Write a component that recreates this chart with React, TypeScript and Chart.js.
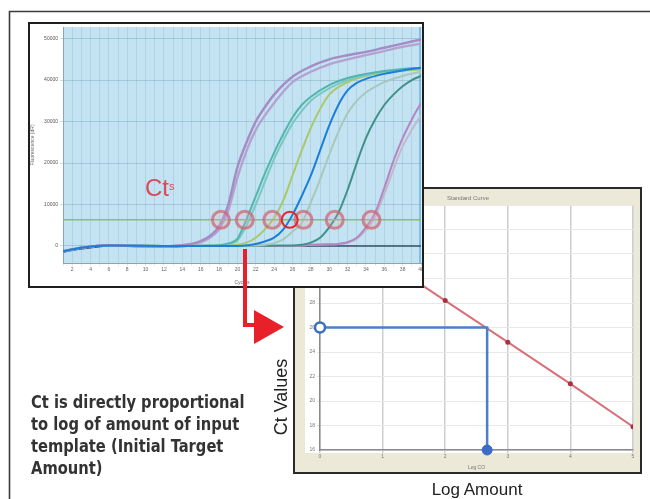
import React, { useEffect, useRef } from "react";
import { Chart, registerables } from "chart.js";
Chart.register(...registerables);

// ---------------- Amplification plot (top-left) ----------------
const ampCycleTicks = [1, 2, 3, 4, 5, 6, 7, 8, 9, 10, 11, 12, 13, 14, 15, 16, 17, 18, 19, 20, 21, 22, 23, 24, 25, 26, 27, 28, 29, 30, 31, 32, 33, 34, 35, 36, 37, 38, 39, 40];
const ampYTicks = [0, 10000, 20000, 30000, 40000, 50000];
const thresholdValue = 6300;
const ctCycles = [18.2, 20.8, 23.8, 27.2, 30.6, 34.6];
const ctHighlightCycle = [25.7];

const purple1Cycles = [1, 3, 6, 9, 12, 14, 15, 16, 17, 18, 19, 20, 21, 22, 23, 24, 26, 28, 30, 32, 34, 36, 38, 40];
const purple1Values = [-1300, -400, 200, 0, -100, 200, 500, 1200, 2400, 4800, 10000, 19000, 25000, 30000, 33500, 36500, 40800, 43300, 45000, 46000, 46800, 47800, 48800, 49800];
const purple2Cycles = [1, 3, 6, 9, 12, 14, 15, 16, 17, 18, 19, 20, 21, 22, 23, 24, 26, 28, 30, 32, 34, 36, 38, 40];
const purple2Values = [-1300, -400, 200, 0, -100, 150, 400, 900, 2000, 4000, 8500, 16500, 23000, 28000, 31500, 34500, 39500, 42000, 43800, 45000, 46000, 47000, 48000, 48800];
const teal1Cycles = [1, 3, 6, 12, 18, 19, 20, 21, 22, 23, 24, 25, 26, 27, 28, 30, 32, 34, 36, 38, 40];
const teal1Values = [-1300, -400, 100, 0, 200, 600, 1800, 6500, 12000, 17500, 22500, 27000, 31000, 34000, 36000, 38800, 40500, 41500, 42200, 42700, 43000];
const teal2Cycles = [1, 3, 6, 12, 18, 19, 20, 21, 22, 23, 24, 25, 26, 27, 28, 30, 32, 34, 36, 38, 40];
const teal2Values = [-1300, -400, 100, 0, 150, 400, 1300, 5000, 10000, 15500, 21000, 25500, 29500, 32500, 35000, 38000, 40000, 41200, 42000, 42500, 42800];
const greenCycles = [1, 3, 6, 12, 19, 20, 21, 22, 23, 24, 25, 26, 27, 28, 29, 30, 32, 34, 36, 38, 40];
const greenValues = [-1300, -400, 100, 0, 100, 300, 800, 2000, 4000, 6800, 11000, 17000, 23000, 28500, 33000, 36500, 39500, 41000, 41800, 42300, 42600];
const blueCycles = [1, 3, 6, 12, 20, 21, 22, 23, 24, 25, 26, 27, 28, 29, 30, 31, 32, 33, 34, 36, 38, 40];
const blueValues = [-1300, -400, 100, 0, 0, 150, 500, 1100, 2000, 4000, 7500, 12000, 17000, 23000, 29000, 34000, 37500, 39300, 40300, 41500, 42300, 43000];
const grayGreenCycles = [1, 3, 6, 12, 22, 23, 24, 25, 26, 27, 28, 29, 30, 31, 32, 33, 34, 36, 38, 40];
const grayGreenValues = [-1300, -400, 100, 0, 100, 300, 700, 1600, 3500, 5500, 10500, 16000, 22000, 27500, 32000, 35000, 37000, 39500, 41000, 42000];
const darkTealCycles = [1, 3, 6, 12, 26, 27, 28, 29, 30, 31, 32, 33, 34, 35, 36, 37, 38, 39, 40];
const darkTealValues = [-1300, -400, 100, 0, 100, 300, 800, 2000, 4500, 8000, 13500, 20000, 26000, 30500, 34000, 36500, 38500, 40000, 41000];
const mauve1Cycles = [1, 3, 6, 12, 26, 28, 30, 31, 32, 33, 34, 35, 36, 37, 38, 39, 40];
const mauve1Values = [-1300, -400, 100, 0, 0, 300, 400, 500, 900, 2000, 4500, 8000, 14000, 20500, 26000, 30500, 34500];
const mauve2Cycles = [1, 3, 6, 12, 26, 28, 30, 31, 32, 33, 34, 35, 36, 37, 38, 39, 40];
const mauve2Values = [-1300, -400, 100, 0, 0, 300, 400, 500, 800, 1700, 3800, 7000, 12500, 18500, 24000, 28000, 31500];
const ntcCycles = [1, 2, 4, 6, 9, 12, 16, 20, 30, 40];
const ntcValues = [-1500, -1000, -400, 0, -100, -200, 0, 0, 0, 0];

// ---------------- Standard curve (bottom-right) ----------------
const stdXTicks = [0, 1, 2, 3, 4, 5];
const stdYTicks = [16, 18, 20, 22, 24, 26, 28, 30, 32, 34, 36];
const stdLogAmount = [0, 1, 2, 3, 4, 5];
const stdCt = [35.0, 31.6, 28.2, 24.8, 21.4, 17.9];
const unknownCt = 26.0;
const unknownLogAmount = 2.67;

const zip = (xs: number[], ys: number[]) => xs.map((x, i) => ({ x, y: ys[i] }));

const FONT = "'Liberation Sans', Arial, sans-serif";

const noPad = (s: any) => {
  s.paddingLeft = 0;
  s.paddingRight = 0;
  s.paddingTop = 0;
  s.paddingBottom = 0;
};

const ampBgPlugin = {
  id: "ampBg",
  beforeDraw(chart: any) {
    const { ctx, chartArea: a } = chart;
    ctx.save();
    ctx.fillStyle = "#c3e3f2";
    ctx.fillRect(a.left, a.top, a.right - a.left, a.bottom - a.top);
    ctx.fillStyle = "#7cc0e6";
    ctx.fillRect(a.right - 2, a.top, 2, a.bottom - a.top);
    ctx.restore();
  },
};

const stdBgPlugin = {
  id: "stdBg",
  beforeDraw(chart: any) {
    const { ctx, chartArea: a } = chart;
    ctx.save();
    ctx.fillStyle = "#ffffff";
    ctx.fillRect(a.left - 15, a.top, a.right - a.left + 15, a.bottom - a.top + 3);
    ctx.fillStyle = "#777";
    ctx.font = "6px " + FONT;
    ctx.textAlign = "center";
    ctx.fillText("Standard Curve", 173, 11);
    ctx.restore();
  },
};

export default function App() {
  const ampRef = useRef<HTMLCanvasElement>(null);
  const stdRef = useRef<HTMLCanvasElement>(null);

  useEffect(() => {
    Chart.defaults.font.family = FONT;
    const curve = (cs: number[], vs: number[], color: string, width = 2) => ({
      data: zip(cs, vs),
      borderColor: color,
      borderWidth: width,
      pointRadius: 0,
      cubicInterpolationMode: "monotone" as const,
      fill: false,
    });

    const amp = new Chart(ampRef.current!, {
      type: "line",
      data: {
        datasets: [
          {
            data: ctHighlightCycle.map((x) => ({ x, y: thresholdValue })),
            showLine: false,
            pointRadius: 8,
            pointBorderWidth: 2,
            pointBorderColor: "#e8242c",
            pointBackgroundColor: "rgba(0,0,0,0)",
          },
          {
            data: ctCycles.map((x) => ({ x, y: thresholdValue })),
            showLine: false,
            pointRadius: 8.5,
            pointBorderWidth: 3,
            pointBorderColor: "rgba(205,100,110,0.72)",
            pointBackgroundColor: "rgba(235,170,180,0.22)",
          },
          curve(blueCycles, blueValues, "#1b7fd8", 2),
          {
            data: [
              { x: 1, y: thresholdValue },
              { x: 40, y: thresholdValue },
            ],
            borderColor: "#86c06a",
            borderWidth: 1.5,
            pointRadius: 0,
          },
          curve(purple1Cycles, purple1Values, "#a48cc6", 2.4),
          curve(purple2Cycles, purple2Values, "#b4a2d0", 2.4),
          curve(teal1Cycles, teal1Values, "#52b6b0", 2),
          curve(teal2Cycles, teal2Values, "#7cc8c0", 2),
          curve(greenCycles, greenValues, "#a9c86c", 2),
          curve(grayGreenCycles, grayGreenValues, "#a6c8bd", 2),
          curve(darkTealCycles, darkTealValues, "#3e9288", 2),
          curve(mauve1Cycles, mauve1Values, "#b486c2", 2),
          curve(mauve2Cycles, mauve2Values, "#c2b8cc", 2),
          curve(ntcCycles, ntcValues, "#3d4d6a", 1.5),
        ],
      },
      options: {
        animation: false,
        responsive: false,
        maintainAspectRatio: false,
        layout: { autoPadding: false, padding: { left: 0, right: 1, top: 3, bottom: 0 } },
        plugins: { legend: { display: false }, tooltip: { enabled: false } },
        scales: {
          x: {
            type: "linear",
            min: 1,
            max: 40,
            afterBuildTicks: (s: any) => {
              s.ticks = ampCycleTicks.map((v) => ({ value: v }));
            },
            afterFit: (s: any) => {
              s.height = 23;
              noPad(s);
            },
            ticks: {
              autoSkip: false,
              maxRotation: 0,
              font: { size: 5 },
              color: "#666",
              padding: 1,
              callback: (v: any) => (Number(v) % 2 === 0 ? String(v) : ""),
            },
            grid: { color: "rgba(90,140,170,0.18)", tickLength: 3 },
            border: { color: "#8aa6b4" },
            title: { display: true, text: "Cycles", font: { size: 5 }, color: "#666", padding: 0 },
          },
          y: {
            type: "linear",
            min: -4100,
            max: 52800,
            afterBuildTicks: (s: any) => {
              s.ticks = ampYTicks.map((v) => ({ value: v }));
            },
            afterFit: (s: any) => {
              s.width = 33;
              noPad(s);
            },
            ticks: { font: { size: 5 }, color: "#555", padding: 2, callback: (v: any) => String(v) },
            grid: { color: "rgba(90,140,170,0.3)", tickLength: 3 },
            border: { color: "#8aa6b4" },
            title: { display: true, text: "Fluorescence (dR)", font: { size: 5 }, color: "#666", padding: 0 },
          },
        },
      },
      plugins: [ampBgPlugin],
    });

    const std = new Chart(stdRef.current!, {
      type: "line",
      data: {
        datasets: [
          {
            data: [{ x: 0, y: unknownCt }],
            showLine: false,
            pointRadius: 5,
            pointBorderWidth: 2.5,
            pointBorderColor: "#3a6cc0",
            pointBackgroundColor: "#ffffff",
            clip: false,
          },
          {
            data: [{ x: unknownLogAmount, y: stdYTicks[0] }],
            showLine: false,
            pointRadius: 5,
            pointBorderWidth: 1,
            pointBorderColor: "#3a6cc0",
            pointBackgroundColor: "#3a6cc8",
            clip: false,
          },
          {
            data: [
              { x: 0, y: unknownCt },
              { x: unknownLogAmount, y: unknownCt },
              { x: unknownLogAmount, y: stdYTicks[0] },
            ],
            borderColor: "#4a80c8",
            borderWidth: 2.5,
            pointRadius: 0,
            tension: 0,
            clip: false,
          },
          {
            data: zip(stdLogAmount, stdCt),
            borderColor: "#d8707a",
            borderWidth: 2,
            pointRadius: 2.5,
            pointBorderWidth: 0,
            pointBackgroundColor: "#a83040",
            tension: 0,
          },
        ],
      },
      options: {
        animation: false,
        responsive: false,
        maintainAspectRatio: false,
        layout: { autoPadding: false, padding: { left: 0, right: 7, top: 16, bottom: 0 } },
        plugins: { legend: { display: false }, tooltip: { enabled: false } },
        scales: {
          x: {
            type: "linear",
            min: 0,
            max: 5,
            afterBuildTicks: (s: any) => {
              s.ticks = stdXTicks.map((v) => ({ value: v }));
            },
            afterFit: (s: any) => {
              s.height = 22;
              noPad(s);
            },
            ticks: { font: { size: 5 }, color: "#777", padding: 1, maxRotation: 0 },
            grid: { color: "#cdcdcd", lineWidth: 1.5, tickLength: 3 },
            border: { color: "#8a8a8a", width: 1.5 },
            title: { display: true, text: "Log CO", font: { size: 5 }, color: "#777", padding: 1 },
          },
          y: {
            type: "linear",
            min: 16,
            max: 36,
            afterBuildTicks: (s: any) => {
              s.ticks = stdYTicks.map((v) => ({ value: v }));
            },
            afterFit: (s: any) => {
              s.width = 25;
              noPad(s);
            },
            ticks: { font: { size: 5 }, color: "#777", padding: 2 },
            grid: { color: "#e8e8e8", lineWidth: 1, tickLength: 3 },
            border: { color: "#8a8a8a", width: 1.5 },
          },
        },
      },
      plugins: [stdBgPlugin],
    });

    return () => {
      amp.destroy();
      std.destroy();
    };
  }, []);

  return (
    <div
      style={{
        position: "absolute",
        left: 0,
        top: 0,
        width: 650,
        height: 499,
        overflow: "hidden",
        background: "#ffffff",
        fontFamily: FONT,
      }}
    >
      <svg width={650} height={499} style={{ position: "absolute", left: 0, top: 0 }}>
        <path d="M9.5,499 V11.5 H650" fill="none" stroke="#3a3a3a" strokeWidth={1.6} />
      </svg>

      {/* Standard curve box */}
      <div
        style={{
          position: "absolute",
          left: 293,
          top: 187,
          width: 349,
          height: 287,
          boxSizing: "border-box",
          border: "2px solid #2a2a2a",
          background: "#ece9d8",
        }}
      >
        <canvas ref={stdRef} width={345} height={283} style={{ display: "block", width: 345, height: 283 }} />
      </div>

      {/* Amplification plot box */}
      <div
        style={{
          position: "absolute",
          left: 28,
          top: 22,
          width: 396,
          height: 266,
          boxSizing: "border-box",
          border: "2px solid #1e1e1e",
          background: "#ffffff",
        }}
      >
        <canvas ref={ampRef} width={392} height={262} style={{ display: "block", width: 392, height: 262 }} />
      </div>

      <div
        style={{
          position: "absolute",
          left: 145,
          top: 176,
          fontSize: 24,
          lineHeight: "24px",
          color: "#d8495a",
          whiteSpace: "nowrap",
        }}
      >
        Ct<sup style={{ fontSize: 11, verticalAlign: "top", position: "relative", top: -2 }}>s</sup>
      </div>

      <svg width={650} height={499} style={{ position: "absolute", left: 0, top: 0, pointerEvents: "none" }}>
        <path d="M245,249 V325 H257" fill="none" stroke="#e8202a" strokeWidth={4} />
        <polygon points="254,310 284,327 254,344" fill="#e8202a" />
      </svg>

      <div
        style={{
          position: "absolute",
          left: 31,
          top: 391,
          fontFamily: "'Liberation Sans Narrow', 'DejaVu Sans Condensed', 'Liberation Sans', sans-serif",
          fontWeight: "bold",
          fontSize: 17.5,
          lineHeight: "22px",
          color: "#333",
          whiteSpace: "nowrap",
          transform: "scaleX(0.934)",
          transformOrigin: "left top",
        }}
      >
        <div>Ct is directly proportional</div>
        <div>to log of amount of input</div>
        <div>template (Initial Target</div>
        <div>Amount)</div>
      </div>

      <div
        style={{
          position: "absolute",
          left: 281,
          top: 397,
          transform: "translate(-50%, -50%) rotate(-90deg)",
          fontSize: 18,
          color: "#222",
          whiteSpace: "nowrap",
        }}
      >
        Ct Values
      </div>

      <div
        style={{
          position: "absolute",
          left: 477,
          top: 490,
          transform: "translate(-50%, -50%)",
          fontSize: 17,
          color: "#222",
          whiteSpace: "nowrap",
        }}
      >
        Log Amount
      </div>
    </div>
  );
}
